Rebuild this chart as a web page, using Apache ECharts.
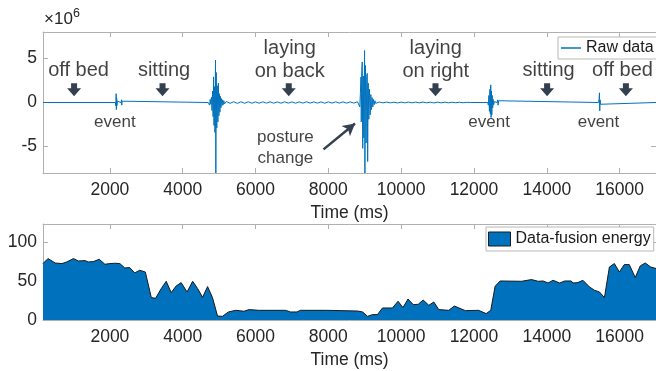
<!DOCTYPE html>
<html><head><meta charset="utf-8">
<script src="https://cdn.jsdelivr.net/npm/echarts@6/dist/echarts.min.js"></script>
<style>html,body{margin:0;padding:0;background:#fff}#c{width:656px;height:371px}</style>
</head><body><div id="c"></div>
<script>
// ---- axes / ticks ----
const xTicks = [2000, 4000, 6000, 8000, 10000, 12000, 14000, 16000];
const rawYTicks = [-5, 0, 5];
const energyYTicks = [0, 50, 100];
const xRange = [163, 17000];
const rawYRange = [-8, 8];
const energyYRange = [0, 123];

// ---- raw signal (x10^6), [time ms, value] ----
const rawStart = [[163, 0], [2150, 0]];
const rawEvent1 = [[2160,0.15],[2166,-0.4],[2172,1.0],[2178,-0.8],[2186,0.5],[2194,-0.35],[2204,0.15],[2215,0],[2310,0],[2320,0.3],[2327,-0.3],[2334,0.15],[2345,0],[4700,0]];
const rawPosture1 = [[4720,0.1],[4740,-0.3],[4756,0.35],[4770,-0.2],[4790,0.6],[4805,-0.9],[4820,1.3],[4835,-1.6],[4848,2.9],[4860,-2.6],[4872,1.8],[4886,-3.4],[4901,4.8],[4910,-8],[4922,3.4],[4936,-2.9],[4950,1.9],[4967,-2.2],[4980,2.2],[4994,-1.5],[5008,1.0],[5022,-1.1],[5036,0.7],[5050,-0.6],[5064,0.45],[5080,-0.35],[5096,0.3],[5112,-0.25],[5130,0.2],[5150,-0.15]];
const rawRest1 = [[5200,0.12],[5300,-0.1],[5400,0.09],[5500,-0.1],[5600,0.08],[5700,-0.09],[5800,0.08],[5900,-0.08],[6000,0.07],[6100,-0.08],[6200,0.08],[6300,-0.07],[6400,0.08],[6500,-0.08],[6600,0.07],[6700,-0.08],[6800,0.08],[6900,-0.07],[7000,0.07],[7100,-0.08],[7200,0.07],[7300,-0.07],[7400,0.08],[7500,-0.07],[7600,0.07],[7700,-0.07],[7800,0.07],[7900,-0.08],[8000,0.07],[8100,-0.07],[8200,0.08],[8300,-0.07],[8400,0.07],[8500,-0.07],[8600,0.07],[8700,-0.07],[8800,0.08]];
const rawPosture2 = [[8850,0.15],[8865,-0.5],[8880,1.0],[8897,2.9],[8905,-2.2],[8918,3.6],[8932,4.6],[8945,-5.2],[8960,3.0],[8975,-4.0],[8995,5.9],[9005,-8],[9020,4.2],[9038,-4.6],[9055,3.0],[9070,3.3],[9080,-6.7],[9095,2.2],[9112,-1.9],[9130,1.5],[9150,-1.4],[9168,0.9],[9186,-0.8],[9204,0.55],[9222,-0.5],[9240,0.35],[9260,-0.25],[9280,0.2],[9300,-0.1]];
const rawRest2 = [[9400,0.05],[9500,-0.04],[9600,0.05],[9700,-0.04],[9800,0.04],[9900,-0.05],[10000,0.04],[10100,-0.04],[10200,0.05],[10300,-0.04],[10400,0.04],[10500,-0.04],[10600,0.05],[10700,-0.04],[10800,0.04],[10900,-0.05],[11000,0.04],[11100,-0.04],[11200,0.04],[11300,-0.04],[11400,0.03],[11500,-0.03],[11600,0.03],[11700,-0.03],[11800,0.02],[11900,0]];
const rawEvent3 = [[12380,0],[12395,-0.3],[12410,0.8],[12425,-1.0],[12438,1.5],[12450,-1.3],[12461,2.0],[12470,-1.7],[12480,1.3],[12490,-1.4],[12502,0.8],[12515,-0.6],[12528,0.35],[12542,-0.25],[12560,0.1],[12580,0],[12640,0],[12652,0.3],[12663,-0.3],[12674,0.2],[12690,0]];
const rawEvent4 = [[15420,0],[15436,0.35],[15447,1.1],[15455,-0.95],[15465,0.3],[15476,-0.2],[15490,0],[17000,0]];

// ---- data-fusion energy ----
const energyTime = [163,300,499,682,818,1000,1135,1317,1408,1544,1708,1863,2000,2136,2273,2409,2545,2682,2818,2974,3138,3255,3411,3547,3684,3820,3957,4120,4274,4410,4546,4683,4819,4956,5092,5256,5457,5684,5820,6093,6822,6959,7140,7232,7958,8804,8941,9077,9214,9350,9487,9760,9915,10051,10188,10332,10469,10605,10761,10898,11034,11307,11462,11763,12126,12336,12461,12581,12718,13308,13580,13763,13900,14036,14173,14355,14492,14673,14719,14855,14992,15174,15311,15447,15584,15720,15857,15993,16129,16266,16430,16566,16703,16855,17000];
const energyValue = [72.3,78.7,73,72.3,74.4,78.7,75.6,76.1,74.4,74.8,77.8,71.4,72.3,72.7,72.3,66.7,67.2,60.3,63.7,61.5,28.7,27.8,40.3,49.6,35.1,43.6,47.9,35.9,49.6,40.3,29.1,42.8,28.7,5.1,4.7,10.3,12.4,11.2,13.3,12.4,12.4,10.3,10.3,12.4,12.4,11.5,10.3,4.7,6.9,6.9,15.4,15.4,24,15.9,26.9,19.7,20.1,25.6,18.8,23.1,13.3,12.4,17.9,12,12.4,8.2,12.4,43.2,50,49.6,51.8,49.6,50,47.4,50.9,47.4,50,50,47.4,47.9,50.9,42.3,38.1,35.9,28.7,67.9,72.3,61.5,71,71,54.4,69.2,73.1,67.9,66];

// ---- annotations (data coordinates) ----
const postureLabels = [['off bed',1140,3.65],['sitting',3487,3.65],['laying\non back',6940,4.84],['laying\non right',10950,4.84],['sitting',14050,3.65],['off bed',16080,3.65]];
const eventLabels = [['event',2136,-2.23],['event',12417,-2.23],['event',15420,-2.23],['posture\nchange',6822,-5.11]];
const arrowTimes = [1017, 3446, 6913, 10943, 14009, 16173];
const arrowLevel = 1.45;
const changeArrow = [[7868, -5.32], [8733, -2.38]];

const FONT = '"Liberation Sans", Arial, Helvetica, sans-serif';
const AX = '#b0b0b0', TXT = '#262626', DARK = '#34404f';

const rawData = [].concat(rawStart, rawEvent1, rawPosture1, rawRest1, rawPosture2, rawRest2, rawEvent3, rawEvent4);
const energyData = energyTime.map((t, i) => [t, energyValue[i]]);

function xAx(gi, pos, labels) {
  return {
    type: 'value', gridIndex: gi, position: pos, min: xRange[0], max: xRange[1],
    axisLine: { show: true, onZero: false, lineStyle: { color: AX, width: 1 } },
    axisTick: { show: true, inside: true, length: 5, customValues: xTicks, lineStyle: { color: AX } },
    axisLabel: { show: labels, customValues: xTicks, formatter: v => String(v), fontSize: 17.5, color: TXT, fontFamily: FONT, margin: 8 },
    splitLine: { show: false },
    name: labels ? 'Time (ms)' : '', nameLocation: 'middle', nameGap: 31,
    nameTextStyle: { fontSize: 17.5, color: TXT, fontFamily: FONT }
  };
}
function yAx(gi, pos, range, ticks, labels) {
  return {
    type: 'value', gridIndex: gi, position: pos, min: range[0], max: range[1],
    axisLine: { show: true, onZero: false, lineStyle: { color: AX, width: 1 } },
    axisTick: { show: true, inside: true, length: 5, customValues: ticks, lineStyle: { color: AX } },
    axisLabel: { show: labels, customValues: ticks, formatter: v => String(v), fontSize: 17.5, color: TXT, fontFamily: FONT, margin: 6 },
    splitLine: { show: false }
  };
}

const chart = echarts.init(document.getElementById('c'), null, { renderer: 'canvas' });
chart.setOption({
  animation: false,
  backgroundColor: '#fff',
  title: [
    { text: '×10', left: 44, top: 11, textStyle: { fontSize: 17, fontWeight: 'normal', color: TXT, fontFamily: FONT }, padding: 0 },
    { text: '6', left: 73, top: 7, textStyle: { fontSize: 12.5, fontWeight: 'normal', color: TXT, fontFamily: FONT }, padding: 0 }
  ],
  grid: [
    { left: 43, right: -4, top: 32, bottom: 198 },
    { left: 43, right: -4, top: 224, bottom: 51 }
  ],
  xAxis: [xAx(0, 'bottom', true), xAx(0, 'top', false), xAx(1, 'bottom', true), xAx(1, 'top', false)],
  yAxis: [yAx(0, 'left', rawYRange, rawYTicks, true), yAx(0, 'right', rawYRange, rawYTicks, false),
          yAx(1, 'left', energyYRange, energyYTicks, true), yAx(1, 'right', energyYRange, energyYTicks, false)],
  legend: [
    { data: ['Raw data'], left: 558, top: 37, padding: [3, 3, 3, 3], itemWidth: 20, itemHeight: 1.5, itemGap: 0,
      icon: 'rect', borderColor: '#b8b8b8', borderWidth: 1, backgroundColor: '#fff', selectedMode: false,
      textStyle: { fontSize: 16, color: '#1a1a1a', fontFamily: FONT } },
    { data: ['Data-fusion energy'], left: 486, top: 227, padding: [4, 3, 4, 2], itemWidth: 22, itemHeight: 14, itemGap: 0,
      icon: 'rect', itemStyle: { borderColor: '#1a1a1a', borderWidth: 1 },
      borderColor: '#b8b8b8', borderWidth: 1, backgroundColor: '#fff', selectedMode: false,
      textStyle: { fontSize: 16, color: '#1a1a1a', fontFamily: FONT } }
  ],
  series: [
    { name: 'Raw data', type: 'line', xAxisIndex: 0, yAxisIndex: 0, data: rawData, symbol: 'none', showSymbol: false,
      lineStyle: { color: '#0072BD', width: 1 }, itemStyle: { color: '#0072BD' }, silent: true, z: 2 },
    { name: 'arrows', type: 'scatter', xAxisIndex: 0, yAxisIndex: 0, silent: true, z: 5,
      data: arrowTimes.map(t => [t, arrowLevel]),
      symbol: 'path://M4,0 L10,0 L10,5 L14,5 L7,13 L0,5 L4,5 Z', symbolSize: [14, 13],
      itemStyle: { color: DARK, opacity: 1 } },
    { name: 'postures', type: 'scatter', xAxisIndex: 0, yAxisIndex: 0, silent: true, z: 6,
      data: postureLabels.map(a => [a[1], a[2], a[0]]), symbolSize: 1, itemStyle: { color: 'rgba(0,0,0,0)' },
      label: { show: true, position: 'inside', formatter: p => p.data[2], fontSize: 20, lineHeight: 23, color: '#111', fontFamily: FONT } },
    { name: 'events', type: 'scatter', xAxisIndex: 0, yAxisIndex: 0, silent: true, z: 6,
      data: eventLabels.map(a => [a[1], a[2], a[0]]), symbolSize: 1, itemStyle: { color: 'rgba(0,0,0,0)' },
      label: { show: true, position: 'inside', formatter: p => p.data[2], fontSize: 17, lineHeight: 21, color: '#111', fontFamily: FONT },
      markLine: { silent: true, symbol: ['none', 'arrow'], symbolSize: [10, 12], label: { show: false },
        lineStyle: { color: DARK, width: 2.5, type: 'solid' },
        data: [[{ coord: changeArrow[0] }, { coord: changeArrow[1] }]] } },
    { name: 'Data-fusion energy', type: 'line', xAxisIndex: 2, yAxisIndex: 2, data: energyData, symbol: 'none', showSymbol: false,
      lineStyle: { color: '#1a1a1a', width: 1 }, itemStyle: { color: '#0072BD' },
      areaStyle: { color: '#0072BD', opacity: 1 }, silent: true }
  ]
});
</script></body></html>
